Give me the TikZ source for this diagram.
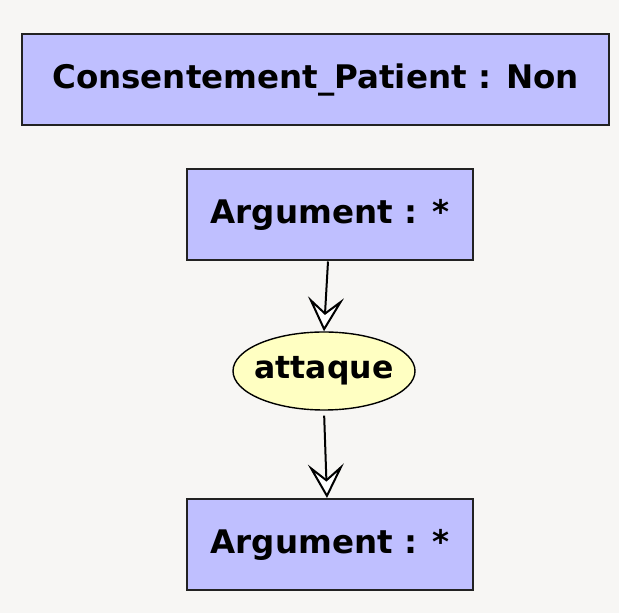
\documentclass[tikz,border=0pt]{standalone}
\usepackage{fontspec}
\setmainfont{DejaVu Sans}
\usepackage{tikz}
\usetikzlibrary{arrows.meta,shapes.geometric}

\definecolor{bgpage}{HTML}{F7F6F4}
\definecolor{boxfill}{HTML}{BFBFFF}
\definecolor{ovalfill}{HTML}{FFFFC2}
\definecolor{edgeline}{HTML}{222222}

\tikzset{
	concept/.style={draw=edgeline, line width=2pt, fill=boxfill, rectangle,
		minimum height=91pt, inner sep=0pt,
		font=\fontsize{32.5}{38}\selectfont\bfseries},
	relation/.style={draw=black, line width=1.4pt, fill=ovalfill, ellipse,
		minimum width=182pt, minimum height=78pt, inner xsep=-5.2pt, inner ysep=0pt,
		font=\fontsize{31.5}{36}\selectfont\bfseries},
	link/.style={line width=2pt, draw=black,
		-{Stealth[length=34pt, width=36pt, inset=15pt, fill=white]}}
}

\begin{document}
\begin{tikzpicture}[x=1pt,y=1pt]
	\fill [bgpage] (0,0) rectangle (619,613);
	\useasboundingbox (0,0) rectangle (619,613);

	\node [concept, minimum width=587pt] (consent) at (315.5,533.5)
	{Consentement\_Patient : Non};
	\node [concept, minimum width=286pt] (argtop) at (330,398)
	{Argument : *};
	\node [relation] (attack) at (324,242)
	{attaque};
	\node [concept, minimum width=286pt] (argbot) at (330,68.5)
	{Argument : *};

	\draw [link] ([xshift=-2pt]argtop.south) -- (attack.north);
	\draw [link, shorten <=5pt] (attack.south) -- ([xshift=-3pt]argbot.north);
\end{tikzpicture}
\end{document}
